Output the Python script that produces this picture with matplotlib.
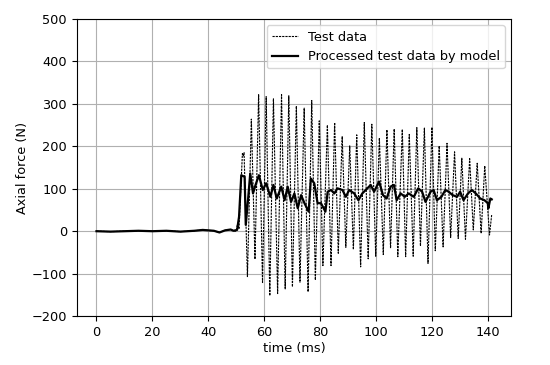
import matplotlib
matplotlib.use("Agg")
import matplotlib.pyplot as plt

plt.rcParams['font.size'] = 9.3

# test data: baseline then peaks/troughs of the oscillation (ms, N)
test_t = [0, 5, 10, 15, 20, 25, 30, 35, 38, 40, 42, 44, 46, 48, 49, 50, 50.5, 51,
          52.2, 52.5, 52.8, 54.0, 55.4, 56.7, 58.0, 59.4, 60.7, 62.0, 63.3, 64.8,
          66.2, 67.5, 68.8, 70.1, 71.5, 72.8, 74.3, 75.7, 77.0, 78.3, 79.7, 81.0,
          82.6, 83.9, 85.2, 86.5, 87.9, 89.2, 90.6, 91.9, 93.1, 94.5, 95.8, 97.2,
          98.5, 99.9, 101.2, 102.6, 103.9, 105.2, 106.5, 107.8, 109.4, 110.6,
          111.9, 113.3, 114.6, 115.9, 117.3, 118.6, 120.0, 121.2, 122.6, 124.0,
          125.4, 126.7, 128.1, 129.4, 130.7, 132.0, 133.5, 134.8, 136.2, 137.6,
          138.9, 140.6, 141.4]
test_f = [0, -1, 0, 1, 0, 1, -1, 1, 3, 2, 1, -3, 2, 4, 1, 0, 18, 5,
          183, 178, 185, -107, 264, -66, 322, -121, 317, -152, 312, -147,
          322, -136, 319, -131, 295, -120, 290, -143, 308, -115, 260, -81,
          250, -81, 256, -52, 223, -38, 201, -43, 227, -84, 256, -65,
          252, -59, 220, -55, 239, -40, 241, -60, 240, -60,
          228, -59, 244, -35, 243, -76, 245, -46, 201, -37,
          207, -15, 187, -17, 172, -19, 171, 3, 160, -5,
          154, -9, 40]

# processed test data by model
proc_t = [0, 5, 10, 15, 20, 25, 30, 35, 38, 40, 42, 44, 46, 48, 49, 50.3, 51.0,
          51.8, 53.0, 53.4, 54.2, 55.0, 56.0, 56.9, 58.1, 59.5, 60.7, 62.2, 63.3,
          64.5, 66.1, 67.3, 68.4, 69.6, 70.8, 72.0, 73.2, 74.4, 75.9, 76.7, 77.9,
          79.1, 80.3, 81.9, 82.7, 83.9, 85.1, 86.2, 88.0, 89.2, 90.4, 92.2, 93.7,
          95.1, 96.3, 98.1, 99.3, 101.1, 102.5, 103.8, 105.2, 106.4, 107.4, 108.8,
          110.3, 111.7, 113.5, 115.1, 116.5, 117.7, 119.5, 120.6, 121.8, 123.4,
          124.8, 126.0, 127.4, 129.0, 130.1, 131.3, 132.9, 134.3, 135.7, 137.3,
          138.8, 140.0, 140.2, 140.9, 141.4]
proc_f = [0, -1, 0, 1, 0, 1, -1, 1, 3, 2, 1, -3, 2, 4, 1, 3, 34,
          132, 128, 15, 73, 136, 89, 109, 132, 97, 113, 81, 109,
          77, 105, 73, 105, 69, 89, 54, 85, 66, 46, 124, 113,
          66, 66, 46, 93, 97, 89, 101, 97, 81, 97, 89, 73,
          89, 97, 109, 93, 117, 85, 77, 105, 109, 73, 89,
          81, 89, 81, 101, 93, 69, 93, 97, 73, 81,
          97, 93, 85, 81, 93, 73, 89, 97, 89, 77,
          73, 66, 54, 77, 75]

fig = plt.figure(figsize=(5.5, 3.65), dpi=100)
ax = fig.add_axes([0.1395, 0.134, 0.7905, 0.814])
ax.plot(test_t, test_f, color='black', lw=0.8, ls=(0, (2.0, 0.9)), label='Test data')
ax.plot(proc_t, proc_f, color='black', lw=1.6, label='Processed test data by model')
ax.set_ylim(-200, 500)
ax.set_xticks(range(0, 141, 20))
ax.set_yticks(range(-200, 501, 100))
ax.set_xlabel('time (ms)', labelpad=2)
ax.set_ylabel('Axial force (N)', labelpad=2)
ax.grid(True, color='#b0b0b0', lw=0.8)
ax.legend(loc='upper right')
fig.savefig('out.png')
